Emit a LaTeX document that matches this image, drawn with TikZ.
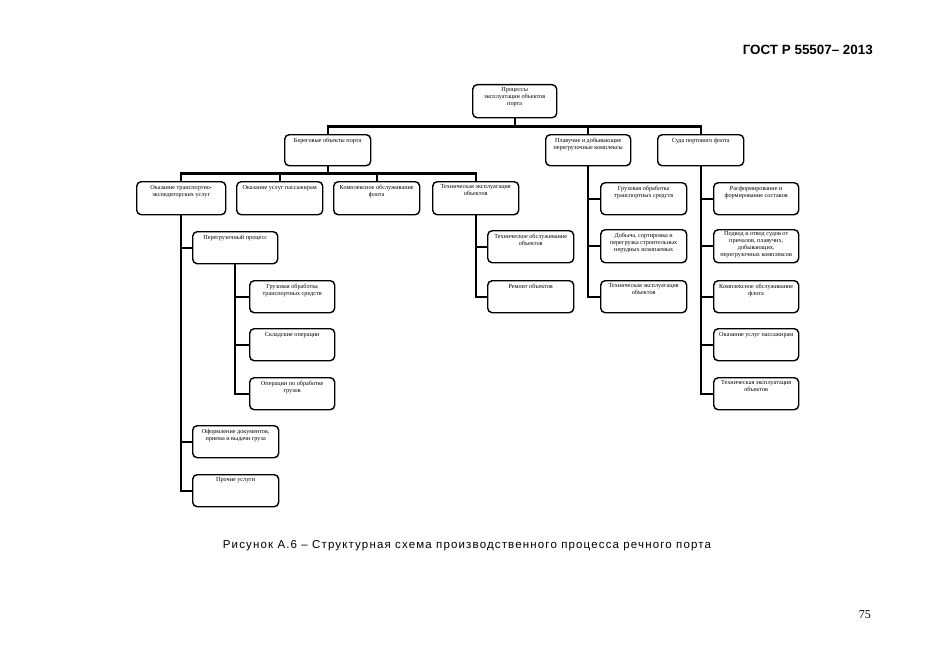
\documentclass[tikz,border=0pt]{standalone}
\usepackage{fontspec}
\setmainfont{Liberation Serif}
\newfontfamily\hdrfont{Liberation Sans}
\newfontfamily\capfont[LetterSpace=10]{Liberation Sans}
\newcommand{\bxt}[2][30]{\parbox[c][#1pt][t]{84pt}{\vspace*{2.2pt}\centering #2\par}}
\tikzset{
  bx/.style={draw, line width=1.4pt, rounded corners=4.5pt, fill=white, inner sep=0pt,
    anchor=north west, minimum width=86pt, minimum height=32pt,
    font=\fontsize{6.2}{7}\selectfont},
  ln/.style={line width=2.4pt},
}
\begin{document}
\begin{tikzpicture}[x=1pt,y=-1pt]
\useasboundingbox[fill=white] (0,0) rectangle (935,661);
% header, caption, page number
\node[anchor=base east, inner sep=0, font=\hdrfont\bfseries\fontsize{13.4}{16}\selectfont] (hdr) at (873,55) {ГОСТ Р 55507– 2013};
\node[anchor=base, inner sep=0, font=\capfont\fontsize{11.5}{14}\selectfont] (cap) at (467,548) {Рисунок А.6 – Структурная схема производственного процесса речного порта};
\node[anchor=base east, inner sep=0, font=\fontsize{12}{14}\selectfont] (pg) at (871,618) {75};
% boxes
\node[bx, minimum width=84pt, minimum height=33pt] (root) at (472,84) {\bxt[31]{Процессы\\эксплуатации объектов\\порта}};
\node[bx, minimum height=31pt] (b1) at (284,134) {\bxt[29]{Береговые объекты порта}};
\node[bx, minimum width=85pt, minimum height=31pt] (b2) at (545,134) {\bxt[29]{Плавучие и добывающие\\перегрузочные комплексы}};
\node[bx, minimum height=31pt] (b3) at (657,134) {\bxt[29]{Суда портового флота}};
\node[bx, minimum width=89pt, minimum height=33pt] (c1) at (136,181) {\bxt[31]{Оказание транспортно-\\экспедиторских услуг}};
\node[bx, minimum height=33pt] (c2) at (236,181) {\bxt[31]{Оказание услуг пассажирам}};
\node[bx, minimum height=33pt] (c3) at (333,181) {\bxt[31]{Комплексное обслуживание\\флота}};
\node[bx, minimum height=33pt] (c4) at (432,181) {\bxt[31]{Техническая эксплуатация\\объектов}};
\node[bx, minimum width=85pt] (d1) at (192,231) {\bxt{Перегрузочный процесс}};
\node[bx] (d2) at (192,425) {\bxt{Оформление документов,\\приема и выдачи груза}};
\node[bx] (d3) at (192,474) {\bxt{Прочие услуги}};
\node[bx, minimum width=85pt] (e1) at (249,280) {\bxt{Грузовая обработка\\транспортных средств}};
\node[bx, minimum width=85pt] (e2) at (249,328) {\bxt{Складские операции}};
\node[bx, minimum width=85pt] (e3) at (249,377) {\bxt{Операции по обработке\\грузов}};
\node[bx] (f1) at (487,230) {\bxt{Техническое обслуживание\\объектов}};
\node[bx] (f2) at (487,280) {\bxt{Ремонт объектов}};
\node[bx] (g1) at (600,182) {\bxt{Грузовая обработка\\транспортных средств}};
\node[bx, minimum height=33pt] (g2) at (600,229) {\bxt[31]{Добыча, сортировка и\\перегрузка строительных\\нерудных ископаемых}};
\node[bx] (g3) at (600,280) {\bxt{Техническая эксплуатация\\объектов}};
\node[bx, minimum width=85pt] (h1) at (713,182) {\bxt{Расформирование и\\формирование составов}};
\node[bx, minimum width=85pt, minimum height=33pt] (h2) at (713,229) {\parbox[c][31pt][t]{84pt}{\vspace*{1pt}\centering Подвод и отвод судов от\\причалов, плавучих,\\добывающих,\\перегрузочных комплексов\par}};
\node[bx, minimum width=85pt] (h3) at (713,280) {\bxt{Комплексное обслуживание\\флота}};
\node[bx, minimum width=85pt] (h4) at (713,328) {\bxt{Оказание услуг пассажирам}};
\node[bx, minimum width=85pt] (h5) at (713,377) {\bxt{Техническая эксплуатация\\объектов}};
% connectors
\draw[ln] (root.south) -- ++(0,8) coordinate (bus0);
\foreach \n in {b1,b2,b3} \draw[ln] (bus0) -| (\n.north);
\draw[ln] (b1.south) -- ++(0,7) coordinate (bus1);
\foreach \n in {c1,c2,c3,c4} \draw[ln] (bus1) -| (\n.north);
\foreach \n in {d1,d2,d3} \draw[ln] (c1.south) |- (\n.west);
\foreach \n in {e1,e2,e3} \draw[ln] (d1.south) |- (\n.west);
\foreach \n in {f1,f2} \draw[ln] (c4.south) |- (\n.west);
\foreach \n in {g1,g2,g3} \draw[ln] (b2.south) |- (\n.west);
\foreach \n in {h1,h2,h3,h4,h5} \draw[ln] (b3.south) |- (\n.west);
\end{tikzpicture}
\end{document}
